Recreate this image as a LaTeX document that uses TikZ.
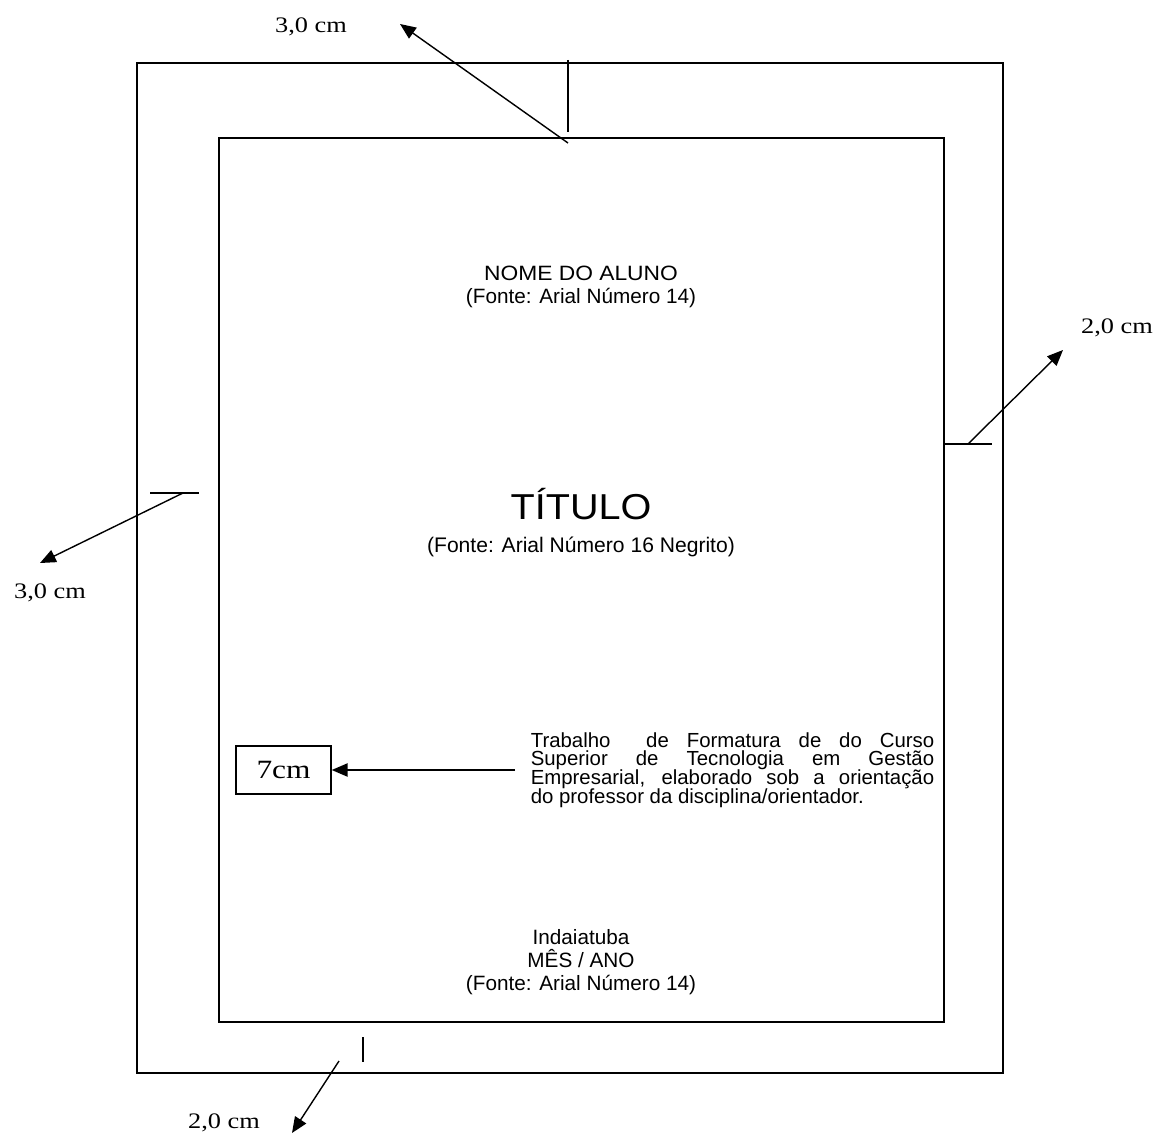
\documentclass[tikz,border=0pt]{standalone}
\usepackage{fontspec}
\setmainfont[FakeStretch=1.19]{Liberation Serif}
\newfontfamily\arialfont{Liberation Sans}
\newfontfamily\arialwide[FakeStretch=1.1]{Liberation Sans}
\newcommand\tightlines{\lineskiplimit=-20pt\relax}
\usetikzlibrary{arrows.meta,positioning}

\begin{document}
\begin{tikzpicture}[x=0.02cm,y=-0.02cm,>={Triangle[length=9pt,width=7.5pt]},
 line width=.9pt,
 sheet/.style={draw,line width=1pt},
 flow/.style={->,line width=.8pt},
 measure/.style={font=\fontsize{12.6}{15}\selectfont,anchor=base,inner sep=0pt},
 caption/.style={align=center,inner sep=0pt,font=\arialfont\fontsize{11.8}{13}\selectfont},
 cell/.style={draw,line width=.9pt,minimum width=54pt,minimum height=27pt,inner sep=0pt,font=\fontsize{15}{17}\selectfont},
 note/.style={align=justify,text width=229.6pt,inner xsep=8.5pt,inner ysep=0pt,font=\arialfont\fontsize{11.6}{10.6}\selectfont\tightlines}]
\useasboundingbox (0,0) rectangle (1156,1142);
% page and margins
\draw[sheet] (137,63) rectangle (1003,1073);
\draw[sheet] (219,138) rectangle (944,1022);
% top margin
\coordinate (topTickA) at (568,60);
\coordinate (topTickB) at (568,132);
\coordinate (topFrom) at (568,143);
\coordinate (topTip) at (400,24);
\draw (topTickA)--(topTickB);
\draw[flow] (topFrom)--(topTip);
\node[measure] (topLabel) at (311,33) {3,0 cm};
% right margin
\coordinate (rightTickA) at (945,444);
\coordinate (rightTickB) at (992,444);
\coordinate (rightFrom) at (968,444);
\coordinate (rightTip) at (1063,350);
\draw (rightTickA)--(rightTickB);
\draw[flow] (rightFrom)--(rightTip);
\node[measure] (rightLabel) at (1117,333) {2,0 cm};
% left margin
\coordinate (leftTickA) at (150,493);
\coordinate (leftTickB) at (199,493);
\coordinate (leftFrom) at (183,493);
\coordinate (leftTip) at (40,563);
\draw (leftTickA)--(leftTickB);
\draw[flow] (leftFrom)--(leftTip);
\node[measure] (leftLabel) at (50,598) {3,0 cm};
% bottom margin
\coordinate (bottomTickA) at (363,1037);
\coordinate (bottomTickB) at (363,1062);
\coordinate (bottomFrom) at (339,1061);
\coordinate (bottomTip) at (292,1133);
\draw (bottomTickA)--(bottomTickB);
\draw[flow] (bottomFrom)--(bottomTip);
\node[measure] (bottomLabel) at (224,1128) {2,0 cm};
% cover texts
\node[caption] (student) at (581,287) {{\arialwide NOME DO ALUNO}\\(Fonte: Arial Número 14)};
\node[caption,anchor=base,font=\arialwide\fontsize{20.5}{24}\selectfont] (title) at (581,519) {TÍTULO};
\node[caption,anchor=base,font=\arialfont\fontsize{12}{13}\selectfont] (titleNote) at (581,552) {(Fonte: Arial Número 16 Negrito)};
\node[note] (work) at (732.5,770) {Trabalho\ \ de Formatura de do Curso\linebreak Superior de Tecnologia em Gestão\linebreak Empresarial, elaborado sob a orientação\linebreak do professor da disciplina/orientador.};
\node[cell] (sevenCm) at (283.5,770) {7cm};
\draw[flow] (work.west)--(sevenCm.east);
\node[caption] (place) at (581,962) {Indaiatuba\\MÊS / ANO\\(Fonte: Arial Número 14)};
\end{tikzpicture}
\end{document}
